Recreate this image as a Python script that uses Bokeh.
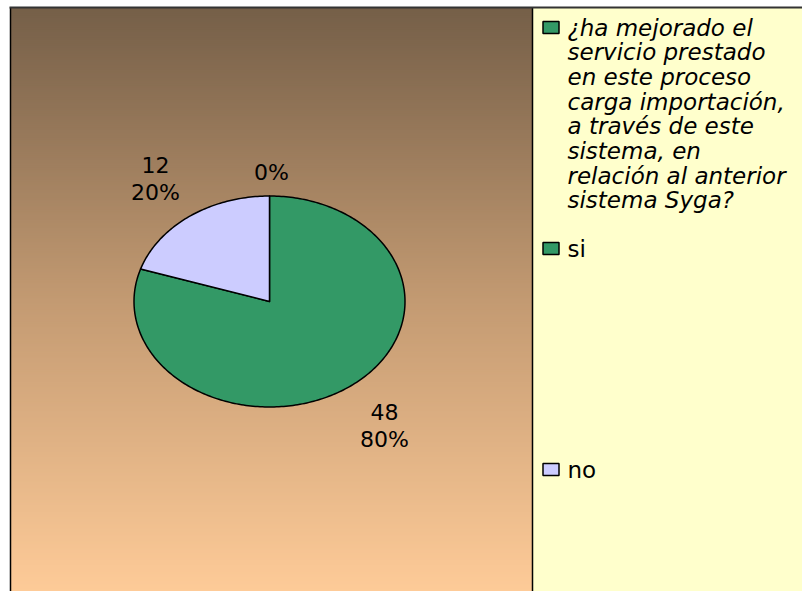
import math
from bokeh.plotting import figure
from bokeh.models import Range1d
from bokeh.core.properties import value
from bokeh.embed import file_html
from bokeh.resources import INLINE

# ---------------- data ----------------
CATEGORIES = [
    "¿ha mejorado el\nservicio prestado\nen este proceso\ncarga importación,\na través de este\nsistema, en\nrelación al anterior\nsistema Syga?",
    "si",
    "no",
]
VALUES = [0, 48, 12]
SLICE_COLORS = ["#339966", "#339966", "#CCCCFF"]
LEGEND_ITALIC = [True, False, False]

# ---------------- layout / style ----------------
W, H = 802, 591
X0, Y0 = 0, 0                      # page offset (image coords)
CX, CY = 269, 301                  # pie centre
RX, RY = 135.5, 105.5              # pie radii (elliptic)
LABEL_OFFSETS = [(2, -129), (115, 124), (-114, -123)]
LABEL_LINE = 27
LEGEND_Y = [27, 248, 469]
LEGEND_LINE = 24.7
PLOT_LEFT, PLOT_RIGHT, PLOT_TOP, PLOT_BOTTOM = 10, 532, 7, 592
FONT = "DejaVu Sans"

p = figure(width=W, height=H, x_range=Range1d(X0, X0 + W), y_range=Range1d(Y0 + H, Y0),
           output_backend="svg", toolbar_location=None, min_border=0)
p.axis.visible = False
p.grid.visible = False
p.outline_line_color = None
p.background_fill_color = "white"
p.border_fill_color = "white"

# gradient background of the plot area
stops = [(7, (117, 95, 72)), (300, (195, 154, 114)), (592, (254, 203, 152))]
def grad(y):
    for (ya, ca), (yb, cb) in zip(stops[:-1], stops[1:]):
        if ya <= y <= yb:
            f = (y - ya) / (yb - ya)
            return "#%02x%02x%02x" % tuple(int(round(a + (b - a) * f)) for a, b in zip(ca, cb))
    return "#%02x%02x%02x" % stops[-1][1]
ys = list(range(PLOT_TOP, PLOT_BOTTOM, 2))
p.quad(left=[PLOT_LEFT] * len(ys), right=[PLOT_RIGHT] * len(ys),
       top=ys, bottom=[y + 5 for y in ys], fill_color=[grad(y + 1) for y in ys], line_color=None)

# legend background
p.quad(left=[PLOT_RIGHT], right=[X0 + W + 10], top=[PLOT_TOP], bottom=[PLOT_BOTTOM],
       fill_color="#FFFFCC", line_color=None)

# borders
p.segment(x0=[PLOT_LEFT], y0=[PLOT_TOP], x1=[PLOT_LEFT], y1=[PLOT_BOTTOM], line_color="black", line_width=1.5)
p.segment(x0=[PLOT_RIGHT], y0=[PLOT_TOP], x1=[PLOT_RIGHT], y1=[PLOT_BOTTOM], line_color="black", line_width=1.5)
p.segment(x0=[PLOT_LEFT - 1], y0=[PLOT_TOP], x1=[X0 + W], y1=[PLOT_TOP], line_color="#333333", line_width=2)

# pie slices (clockwise from 12 o'clock, elliptic)
total = sum(VALUES)
xs_list, ys_list, cols = [], [], []
label_x, label_y, label_t = [], [], []
acc = 0.0
for v, c, (dx, dy) in zip(VALUES, SLICE_COLORS, LABEL_OFFSETS):
    a0 = math.pi / 2 - 2 * math.pi * acc / total
    a1 = math.pi / 2 - 2 * math.pi * (acc + v) / total
    acc += v
    pct = "%d%%" % round(100 * v / total)
    lines = [pct] if v == 0 else [str(v), pct]
    for i, t in enumerate(lines):
        label_x.append(CX + dx)
        label_y.append(CY + dy + (i - (len(lines) - 1) / 2) * LABEL_LINE)
        label_t.append(t)
    if v == 0:
        continue
    n = max(4, int(abs(a1 - a0) / (2 * math.pi) * 360))
    px, py = [CX], [CY]
    for i in range(n + 1):
        t = a0 + (a1 - a0) * i / n
        px.append(CX + RX * math.cos(t))
        py.append(CY - RY * math.sin(t))
    xs_list.append(px)
    ys_list.append(py)
    cols.append(c)
p.patches(xs=xs_list, ys=ys_list, fill_color=cols, line_color="black", line_width=1.5, line_join="round")

p.text(x=label_x, y=label_y, text=label_t, text_font=value(FONT), text_font_size="22px",
       text_color="black", text_align="center", text_baseline="middle")

# legend
mx, my, mc = [], [], []
for cat, c, ly, it in zip(CATEGORIES, SLICE_COLORS, LEGEND_Y, LEGEND_ITALIC):
    mx.append(550.5); my.append(ly); mc.append(c)
    lines = cat.split("\n")
    p.text(x=[567] * len(lines), y=[ly + i * LEGEND_LINE for i in range(len(lines))], text=lines,
           text_font=value(FONT), text_font_size="23px", text_color="black",
           text_font_style="italic" if it else "normal", text_align="left", text_baseline="middle")
p.rect(x=mx, y=my, width=16, height=12, fill_color=mc, line_color="black", line_width=1.5)

open("out.html", "w").write(file_html(p, INLINE))
